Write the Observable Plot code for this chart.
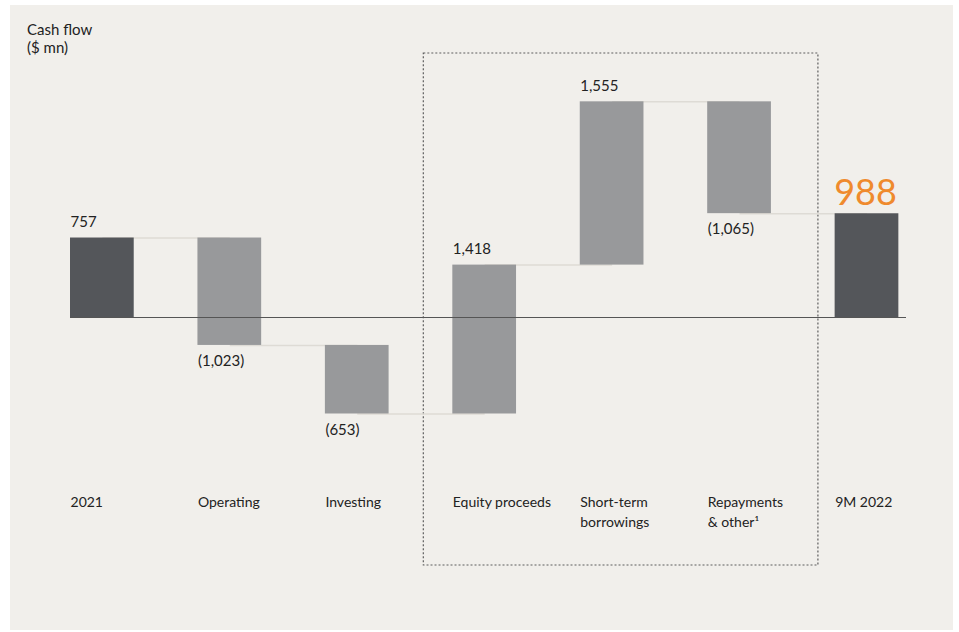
<!DOCTYPE html>
<html>
<head>
<meta charset="utf-8">
<script src="https://cdn.jsdelivr.net/npm/d3@7"></script>
<script src="https://cdn.jsdelivr.net/npm/@observablehq/plot@0.6"></script>
<style>
  html, body { margin: 0; padding: 0; background: #ffffff; }
  #wrap { position: relative; width: 959px; height: 632px; overflow: hidden; }
  #panel { position: absolute; left: 10px; top: 5px; width: 943px; height: 625px; background: #f1efeb; }
  #chart { position: absolute; left: 0; top: 0; }
  #title { position: absolute; left: 27px; top: 20px; font-family: Lato, "Open Sans", sans-serif; font-size: 15px; line-height: 18px; color: #222; }
</style>
</head>
<body>
<div id="wrap">
  <div id="panel"></div>
  <div id="chart"></div>
  <div id="title">Cash flow<br>($ mn)</div>
</div>
<script>
// ---- data ----
const categories = ["2021", "Operating", "Investing", "Equity proceeds", "Short-term borrowings", "Repayments & other", "9M 2022"];
const tickLabels = ["2021", "Operating", "Investing", "Equity proceeds", "Short-term\nborrowings", "Repayments\n& other\u00b9", "9M 2022"];
const values = [757, -1023, -653, 1418, 1555, -1065, 988];
const kinds = ["total", "change", "change", "change", "change", "change", "total"];
const groupCategories = ["Equity proceeds", "Repayments & other"];

// ---- build waterfall table ----
let running = 0;
const rows = categories.map((c, i) => {
  let y1, y2;
  if (kinds[i] === "total") { y1 = 0; y2 = values[i]; running = values[i]; }
  else { y1 = running; y2 = running + values[i]; running = y2; }
  const v = values[i];
  const label = v < 0 ? `(${d3.format(",")(-v)})` : d3.format(",")(v);
  return {category: c, tick: tickLabels[i], value: v, kind: kinds[i], y1, y2, label,
          top: Math.max(y1, y2), bottom: Math.min(y1, y2), end: y2, last: i === categories.length - 1};
});
const links = rows.slice(0, -1).map((r, i) => ({x1: r.category, x2: rows[i + 1].category, y: r.end}));
const tickMap = new Map(rows.map(r => [r.category, r.tick]));

const W = 959, H = 632;
const dx = -31.85;

const groupBox = (index, scales, values, dims) => {
  const x = scales.x;
  const bw = x.bandwidth();
  const left = x(groupCategories[0]) - 29;
  const right = x(groupCategories[1]) + bw + 47;
  const g = d3.create("svg:rect")
    .attr("x", left).attr("y", 53)
    .attr("width", right - left).attr("height", 565 - 53)
    .attr("fill", "none").attr("stroke", "#5e5e5e")
    .attr("stroke-width", 1.2).attr("stroke-dasharray", "2,2");
  return g.node();
};

const chart = Plot.plot({
  width: W,
  height: H,
  marginLeft: 70,
  marginRight: 53,
  marginTop: 54.5,
  marginBottom: 210,
  style: {background: "transparent", fontFamily: "Lato, 'Open Sans', sans-serif", color: "#222"},
  x: {domain: categories, paddingInner: 0.5, paddingOuter: 0.03, align: 0, round: false, label: null},
  y: {domain: [-1000, 2500], axis: null},
  marks: [
    groupBox,
    Plot.link(links, {x1: "x1", x2: "x2", y1: "y", y2: "y", stroke: "#dedbd5", strokeWidth: 1.5}),
    Plot.barY(rows, {x: "category", y1: "y1", y2: "y2", fill: d => d.kind === "total" ? "#54565a" : "#98999b"}),
    Plot.ruleY([0], {stroke: "#555", strokeWidth: 1.2}),
    Plot.text(rows.filter(d => !d.last && (d.kind === "total" || d.value > 0)), {
      x: "category", y: "top", text: "label", textAnchor: "start", dx, dy: -11,
      lineAnchor: "bottom", fontSize: 15, fill: "#222"
    }),
    Plot.text(rows.filter(d => d.kind === "change" && d.value < 0), {
      x: "category", y: "bottom", text: "label", textAnchor: "start", dx, dy: 10,
      lineAnchor: "top", fontSize: 15, fill: "#222"
    }),
    Plot.text(rows.filter(d => d.last), {
      x: "category", y: "top", text: "label", textAnchor: "start", dx: dx - 1, dy: -9,
      lineAnchor: "bottom", fontSize: 36, fill: "#ef8a2d"
    }),
    Plot.axisX({
      tickSize: 0, tickPadding: 71, textAnchor: "start", dx,
      tickFormat: d => tickMap.get(d), fontSize: 14, lineHeight: 1.4, label: null, fill: "#222"
    })
  ]
});
document.getElementById("chart").appendChild(chart);
</script>
</body>
</html>
